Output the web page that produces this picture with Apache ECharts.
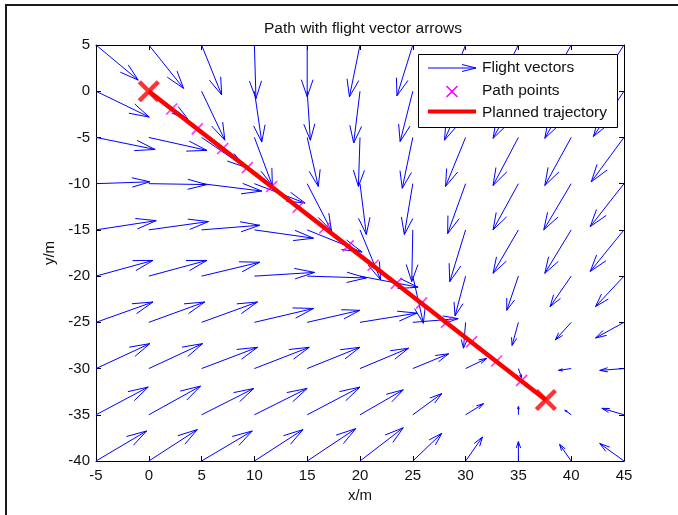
<!DOCTYPE html>
<html>
<head>
<meta charset="utf-8">
<script src="https://cdn.jsdelivr.net/npm/echarts@6/dist/echarts.min.js"></script>
<style>
  html, body { margin: 0; padding: 0; background: #fff; }
  #chart { width: 678px; height: 515px; }
</style>
</head>
<body>
<div id="chart"></div>
<script>
// Quiver grid (arrow tails)
const gridX = [-5, 0, 5, 10, 15, 20, 25, 30, 35, 40, 45];
const gridY = [5, 0, -5, -10, -15, -20, -25, -30, -35, -40];

// Flight vector components, one row per gridY value, one column per gridX value
const flightU = [
  [4.0, 3.3, 1.9, 0.15, 0.0, -1.0, -1.5, -1.9, -2.3, -2.5, -2.8],
  [5.05, 3.7, 2.2, 0.7, 0.3, -0.6, -1.2, -2.0, -2.4, -2.5, -2.9],
  [5.6, 5.5, 4.1, 1.7, 1.05, -0.15, -1.0, -1.9, -2.4, -2.5, -3.1],
  [5.1, 5.5, 5.7, 4.8, 2.3, 0.6, -0.8, -1.7, -2.4, -2.6, -3.2],
  [5.7, 5.65, 5.5, 5.6, 5.2, 1.95, -0.1, -1.5, -2.4, -2.5, -3.2],
  [5.4, 5.5, 5.5, 5.7, 5.6, 5.5, 1.0, -1.0, -1.1, -2.0, -2.7],
  [5.4, 5.3, 5.3, 5.6, 5.0, 5.4, 4.3, -0.2, -0.6, -1.5, -2.7],
  [5.1, 5.1, 5.3, 5.2, 5.0, 4.6, 3.4, 2.0, 0.3, -1.2, -2.3],
  [4.95, 4.9, 4.95, 5.0, 5.0, 4.1, 2.75, 1.7, 0.0, -0.6, -2.1],
  [4.8, 4.6, 4.8, 4.6, 4.6, 4.1, 2.75, 1.6, 0.0, -1.1, -2.3]
];
const flightV = [
  [-3.8, -4.7, -5.4, -5.8, -5.6, -5.6, -5.5, -5.4, -5.2, -5.1, -4.9],
  [-2.8, -3.0, -5.3, -5.5, -5.3, -5.6, -5.45, -5.3, -5.1, -5.1, -4.9],
  [-1.3, -1.4, -3.2, -5.2, -5.3, -5.3, -5.5, -5.3, -5.2, -5.2, -4.8],
  [0.2, -0.1, -0.8, -2.1, -5.1, -5.5, -5.5, -5.4, -5.0, -5.0, -4.65],
  [1.0, 0.9, 0.5, -0.9, -2.4, -5.4, -5.6, -5.6, -4.7, -4.7, -4.5],
  [1.7, 1.7, 1.5, 0.4, -0.2, -1.2, -5.1, -4.3, -3.7, -3.3, -3.3],
  [2.2, 2.2, 2.2, 1.5, 1.3, 1.0, 0.4, -2.8, -2.5, -1.9, -1.7],
  [2.7, 2.7, 2.3, 2.3, 2.3, 2.2, 1.6, 1.1, -1.0, -0.2, -0.2],
  [3.0, 3.1, 2.85, 2.85, 3.0, 2.7, 2.3, 1.2, 0.9, 0.5, 0.7],
  [3.25, 3.4, 3.25, 3.4, 3.5, 3.6, 3.0, 2.6, 2.1, 1.8, 1.9]
];

// Intermediate path points
const pathPointX = [2.17, 4.59, 7.0, 9.33, 11.64, 14.15, 16.67, 18.88, 21.24, 23.45, 25.84, 28.2, 30.57, 32.94, 35.31];
const pathPointY = [-1.92, -4.07, -6.2, -8.27, -10.31, -12.54, -14.77, -16.73, -18.82, -20.78, -22.89, -24.99, -27.09, -29.18, -31.28];

// Planned trajectory: start and goal
const trajectoryX = [0, 37.6];
const trajectoryY = [0, -33.4];

// Axis ranges / ticks
const xRange = [-5, 45];
const yRange = [-40, 5];
const tickStep = 5;

const FONT = 'Arial, "Liberation Sans", Helvetica, sans-serif';
const TEXT_COLOR = '#111';

const quiverData = [];
gridY.forEach((y, r) => {
  gridX.forEach((x, c) => {
    quiverData.push([x, y, flightU[r][c], flightV[r][c]]);
  });
});
const pathPoints = pathPointX.map((x, i) => [x, pathPointY[i]]);
const trajectory = trajectoryX.map((x, i) => [x, trajectoryY[i]]);

// Arrow glyph: shaft plus a two-stroke head, head computed in data space
const HEAD_LEN = 0.33, HEAD_WIDTH = 0.3;
function renderArrow(params, api) {
  const x = api.value(0), y = api.value(1), u = api.value(2), v = api.value(3);
  const tx = x + u, ty = y + v;
  const p0 = api.coord([x, y]);
  const p1 = api.coord([tx, ty]);
  const hA = api.coord([tx - HEAD_LEN * (u + HEAD_WIDTH * v), ty - HEAD_LEN * (v - HEAD_WIDTH * u)]);
  const hB = api.coord([tx - HEAD_LEN * (u - HEAD_WIDTH * v), ty - HEAD_LEN * (v + HEAD_WIDTH * u)]);
  const style = { stroke: '#0000ff', lineWidth: 1, fill: null };
  return {
    type: 'group',
    children: [
      { type: 'polyline', shape: { points: [p0, p1] }, style },
      { type: 'polyline', shape: { points: [hA, p1, hB] }, style }
    ]
  };
}

const CROSS = 'path://M0,0L10,10M10,0L0,10';

function axisBase(extra) {
  return Object.assign({
    type: 'value',
    interval: tickStep,
    axisLine: { show: true, onZero: false, lineStyle: { color: '#000', width: 1 } },
    axisTick: { show: true, inside: true, length: 5, lineStyle: { color: '#000', width: 1 } },
    splitLine: { show: false },
    axisLabel: { color: TEXT_COLOR, fontSize: 15, fontFamily: FONT }
  }, extra);
}

// Legend drawn on its own layer above the plot
const LEGEND_FONT = '15.5px ' + FONT;
const legendItems = [
  { type: 'rect', shape: { x: 418.5, y: 54.5, width: 199, height: 73 }, style: { fill: '#fff', stroke: '#000', lineWidth: 1 } },
  { type: 'line', shape: { x1: 428, y1: 68, x2: 476, y2: 68 }, style: { stroke: '#0000ff', lineWidth: 1 } },
  { type: 'polyline', shape: { points: [[462, 64.5], [476, 68], [462, 71.5]] }, style: { stroke: '#0000ff', lineWidth: 1, fill: null } },
  { type: 'polyline', shape: { points: [[446.5, 86], [457.5, 97]] }, style: { stroke: '#ff00ff', lineWidth: 1.6 } },
  { type: 'polyline', shape: { points: [[457.5, 86], [446.5, 97]] }, style: { stroke: '#ff00ff', lineWidth: 1.6 } },
  { type: 'line', shape: { x1: 428, y1: 111.5, x2: 476, y2: 111.5 }, style: { stroke: '#ff0000', lineWidth: 4 } },
  { type: 'text', x: 482, y: 68, style: { text: 'Flight vectors', fill: TEXT_COLOR, font: LEGEND_FONT, verticalAlign: 'middle' } },
  { type: 'text', x: 482, y: 90.5, style: { text: 'Path points', fill: TEXT_COLOR, font: LEGEND_FONT, verticalAlign: 'middle' } },
  { type: 'text', x: 482, y: 112.5, style: { text: 'Planned trajectory', fill: TEXT_COLOR, font: LEGEND_FONT, verticalAlign: 'middle' } }
].map(el => Object.assign(el, { zlevel: 2, z: 100 }));

const chart = echarts.init(document.getElementById('chart'), null, { renderer: 'canvas' });
chart.setOption({
  backgroundColor: '#fff',
  animation: false,
  title: {
    text: 'Path with flight vector arrows',
    left: 358,
    top: 16,
    textAlign: 'center',
    textStyle: { color: TEXT_COLOR, fontSize: 15.5, fontWeight: 'normal', fontFamily: FONT }
  },
  grid: { left: 96, top: 45, width: 528, height: 416, outerBoundsMode: 'none', containLabel: false },
  xAxis: [
    axisBase({
      min: xRange[0], max: xRange[1], position: 'bottom',
      axisLabel: { color: TEXT_COLOR, fontSize: 15, fontFamily: FONT, margin: 7 },
      name: 'x/m', nameLocation: 'middle', nameGap: 26,
      nameTextStyle: { color: TEXT_COLOR, fontSize: 15, fontFamily: FONT }
    }),
    axisBase({ min: xRange[0], max: xRange[1], position: 'top', axisLabel: { show: false } })
  ],
  yAxis: [
    axisBase({
      min: yRange[0], max: yRange[1], position: 'left',
      axisLabel: { color: TEXT_COLOR, fontSize: 15, fontFamily: FONT, margin: 6 },
      name: 'y/m', nameLocation: 'middle', nameGap: 36, nameRotate: 90,
      nameTextStyle: { color: TEXT_COLOR, fontSize: 15, fontFamily: FONT }
    }),
    axisBase({ min: yRange[0], max: yRange[1], position: 'right', axisLabel: { show: false } })
  ],
  series: [
    {
      name: 'Flight vectors',
      type: 'custom',
      renderItem: renderArrow,
      data: quiverData,
      encode: { x: 0, y: 1 },
      clip: true,
      silent: true,
      z: 2
    },
    {
      name: 'Path points',
      type: 'scatter',
      data: pathPoints,
      symbol: CROSS,
      symbolSize: 11,
      itemStyle: { color: 'none', borderColor: '#ff00ff', borderWidth: 1.6 },
      silent: true,
      z: 3
    },
    {
      name: 'Planned trajectory',
      type: 'line',
      data: trajectory,
      symbol: 'none',
      lineStyle: { color: '#ff0000', width: 4.5 },
      silent: true,
      z: 4
    },
    {
      name: 'Endpoints',
      type: 'scatter',
      data: trajectory,
      symbol: CROSS,
      symbolSize: 19,
      itemStyle: { color: 'none', borderColor: '#ff0000', borderWidth: 4.5 },
      silent: true,
      z: 5
    }
  ],
  graphic: [
    // window frame edges
    { type: 'line', shape: { x1: 5, y1: 5, x2: 678, y2: 5 }, style: { stroke: '#1a1a1a', lineWidth: 2 }, zlevel: 2, z: 50 },
    { type: 'line', shape: { x1: 6, y1: 4, x2: 6, y2: 515 }, style: { stroke: '#1a1a1a', lineWidth: 2 }, zlevel: 2, z: 50 }
  ].concat(legendItems)
});
</script>
</body>
</html>
